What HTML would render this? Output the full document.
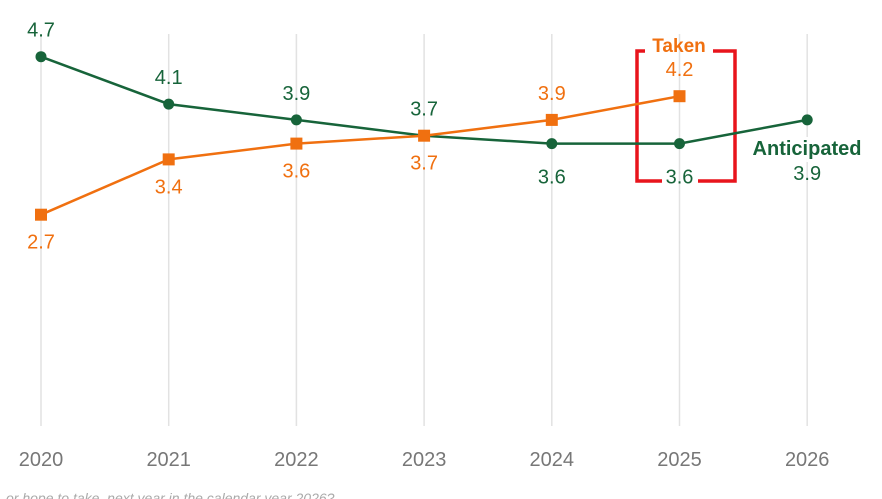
<!DOCTYPE html>
<html><head><meta charset="utf-8"><style>
body{margin:0;background:#fff;width:882px;height:499px;overflow:hidden}
svg{display:block;font-family:"Liberation Sans",sans-serif}
</style></head><body>
<svg width="882" height="499" id="c"></svg>
<script>
const years=["2020","2021","2022","2023","2024","2025","2026"];
const anticipated=[4.7,4.1,3.9,3.7,3.6,3.6,3.9];
const taken=[2.7,3.4,3.6,3.7,3.9,4.2];
const antLabelPos=["above","above","above","above","below","below","far"];
const takLabelPos=["below","below","below","below","above","above"];
const svg=document.getElementById('c');
const NS='http://www.w3.org/2000/svg';
const x=i=>41+i*127.7;
const y=v=>428-v*79;
function mk(t,a,p){const e=document.createElementNS(NS,t);for(const k in a)e.setAttribute(k,a[k]);(p||svg).appendChild(e);return e;}
const G='#17643a',O='#f07010';
years.forEach((yr,i)=>{
 const l=mk('line',{x1:x(i),x2:x(i),y1:34,y2:426,stroke:'#e2e2e2','stroke-width':1.5});
 
 
 const t=mk('text',{x:x(i),y:466,'text-anchor':'middle','font-size':20,fill:'#777'});t.textContent=yr;
 
 
});
const br=mk('path',{d:'M645,51 H637 V181 H662 M698,181 H735 V51 H713',fill:'none',stroke:'#e8141c','stroke-width':3.5});


const tk=mk('text',{x:679,y:52,'text-anchor':'middle','font-size':19,'font-weight':'bold',fill:O});tk.textContent='Taken';


function series(vals,col,name,marker,pos,belowOff){
 const p=mk('polyline',{points:vals.map((v,i)=>x(i)+','+y(v)).join(' '),fill:'none',stroke:col,'stroke-width':2.5});
 
 
 vals.forEach((v,i)=>{
  let m;
  if(marker==='c')m=mk('circle',{cx:x(i),cy:y(v),r:5.5,fill:col});
  else m=mk('rect',{x:x(i)-6,y:y(v)-6,width:12,height:12,fill:col});
  
  
 });
}
function labels(vals,col,name,pos,belowOff){
 vals.forEach((v,i)=>{
  const ty=pos[i]==='above'?y(v)-20:pos[i]==='far'?y(v)+60:y(v)+belowOff;
  const t=mk('text',{x:x(i),y:ty,'text-anchor':'middle','font-size':20,fill:col});
  t.textContent=v.toFixed(1);
  
  
 });
}
series(anticipated,G,'anticipated','c');
series(taken,O,'taken','s');
const an=mk('text',{x:807,y:155,'text-anchor':'middle','font-size':20,'font-weight':'bold',fill:G,stroke:'#fff','stroke-width':6,'paint-order':'stroke'});an.textContent='Anticipated';


labels(anticipated,G,'anticipated',antLabelPos,40);
labels(taken,O,'taken',takLabelPos,34);
const cap=mk('text',{x:6,y:503,'font-size':14,'font-style':'italic',fill:'#aaa'});cap.textContent='or hope to take, next year in the calendar year 2026?';


</script>
</body></html>
